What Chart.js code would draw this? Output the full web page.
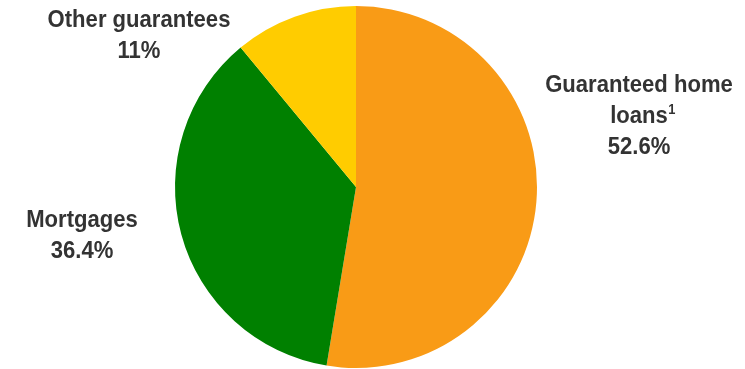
<!DOCTYPE html>
<html>
<head>
<meta charset="utf-8">
<script src="https://cdn.jsdelivr.net/npm/chart.js@4"></script>
<style>
  html, body { margin: 0; padding: 0; background: #fff; }
  #wrap { width: 745px; height: 369px; position: relative; }
</style>
</head>
<body>
<div id="wrap"><canvas id="chart"></canvas></div>
<script>
const categories = ["Guaranteed home loans", "Mortgages", "Other guarantees"];
const shares = [52.6, 36.4, 11];
const colors = ["#F99B16", "#008000", "#FFCC00"];

// label text lines and where they sit, relative to the pie centre
const labelLines = [
    ["Guaranteed home", "loans", "52.6%"],
    ["Mortgages", "36.4%"],
    ["Other guarantees", "11%"]
];
const labelOffsets = [[283, -102], [-274, 33], [-217, -167]];
const superscripts = [[1, "1"], null, null];

const FONT = '"Liberation Sans Narrow", "Arial Narrow", "Liberation Sans", Arial, sans-serif';
const SQUEEZE = 0.92; // labels in the original are slightly condensed

const outsideLabels = {
    id: "outsideLabels",
    afterDraw(chart) {
        const ctx = chart.ctx;
        const arc = chart.getDatasetMeta(0).data[0];
        const cx = arc.x, cy = arc.y;
        ctx.save();
        ctx.fillStyle = "#333333";
        ctx.textBaseline = "middle";
        labelLines.forEach((lines, i) => {
            const [ox, oy] = labelOffsets[i];
            lines.forEach((line, j) => {
                const x = cx + ox;
                const y = cy + oy + j * 31;
                ctx.save();
                ctx.translate(x, y);
                ctx.scale(SQUEEZE, 1);
                ctx.font = "bold 24px " + FONT;
                ctx.textAlign = "center";
                ctx.fillText(line, 0, 0);
                const sup = superscripts[i];
                if (sup && sup[0] === j) {
                    const w = ctx.measureText(line).width;
                    ctx.font = "bold 14px " + FONT;
                    ctx.textAlign = "left";
                    ctx.fillText(sup[1], w / 2 + 0.5, -6);
                }
                ctx.restore();
            });
        });
        ctx.restore();
    }
};

new Chart(document.getElementById("chart"), {
    type: "pie",
    data: {
        labels: categories,
        datasets: [{
            data: shares,
            backgroundColor: colors,
            borderWidth: 0
        }]
    },
    options: {
        responsive: true,
        maintainAspectRatio: false,
        animation: false,
        layout: { padding: { left: 0, right: 33, top: 6, bottom: 1 } },
        plugins: {
            legend: { display: false },
            tooltip: { enabled: false }
        }
    },
    plugins: [outsideLabels]
});
</script>
</body>
</html>
